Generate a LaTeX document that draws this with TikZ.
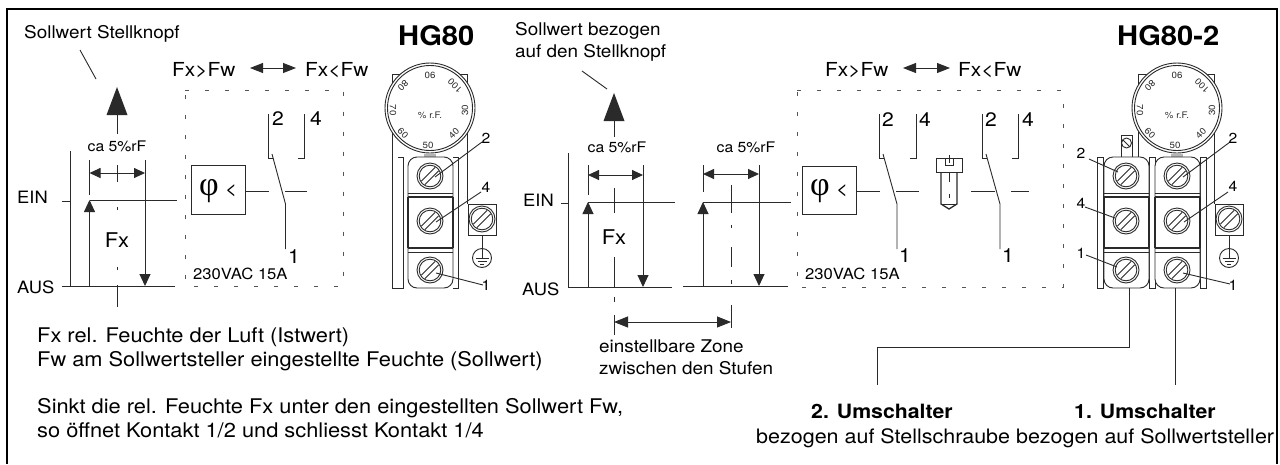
\documentclass[tikz,border=0pt]{standalone}
\usepackage{fontspec}
\setmainfont[FakeStretch=1.08]{TeX Gyre Heros}
\newfontfamily\phifont{Liberation Serif}
\usetikzlibrary{arrows.meta}
\definecolor{ink}{HTML}{2a2a2a}
\newcommand{\fsz}[1]{\fontsize{#1}{#1}\selectfont}
\tikzset{
  ln/.style={draw=ink,line width=0.9pt},
  txt/.style={inner sep=0pt,anchor=base west,text=black},
  body/.style={txt,font=\fsz{20.2}},
  upper/.style={txt,font=\fsz{17.5}},
  cmp/.style={txt,font=\fsz{19.3}},
  small/.style={txt,font=\fsz{15.4}},
  level/.style={txt,font=\fsz{17}},
  cat/.style={ctr,font=\fsz{14.6}},
  ctr/.style={inner sep=0pt,anchor=base,text=black},
  num/.style={ctr,font=\fsz{19.5}},
  snum/.style={ctr,font=\fsz{14.5}},
  dial/.style={inner sep=0pt,anchor=center,font=\fsz{9},text=ink},
  dimhead/.style={ln,{Triangle[length=11pt,width=10pt]}-{Triangle[length=11pt,width=10pt]}},
  cmphead/.style={ln,{Triangle[length=13pt,width=10pt]}-{Triangle[length=13pt,width=10pt]}},
  onehead/.style={ln,-{Triangle[length=12pt,width=11pt]}},
  dashbox/.style={draw=ink!80,line width=0.9pt,dash pattern=on 4pt off 16pt},
}
\newcommand{\screw}[3][13]{%
  \begin{scope}[shift={(#2,#3)}]
    \draw[ln,fill=white] (0,0) circle (13);
    \draw[ln] (0,0) circle (10.8);
    \draw[ln] (-8.5,5) -- (5,-8.5);
    \draw[ln] (-5,8.5) -- (8.5,-5);
  \end{scope}}
\newcommand{\knob}[1]{%
  \begin{scope}[shift={(#1,108)}]
    \draw[ln,fill=white] (0,0) circle (45);
    \draw[ln] (0,0) circle (42.5);
    \node[dial] (k06#1) at (0,-33) {06};
    \node[dial,rotate=135] (k100#1) at (25,-22) {100};
    \node[dial,rotate=90] (k30#1) at (35,2) {30};
    \node[dial,rotate=45] (k40#1) at (24,25) {40};
    \node[dial] (k50#1) at (-2,37) {50};
    \node[dial,rotate=-45] (k60#1) at (-27,25) {60};
    \node[dial,rotate=-90] (k70#1) at (-37,2) {70};
    \node[dial,rotate=-135] (k80#1) at (-27,-22) {80};
    \node[dial] (kpc#1) at (0,7) {\% r.F.};
    \fill[ink!35] (-6,46) rectangle (6,49);
  \end{scope}}
\newcommand{\block}[1]{%
  \begin{scope}[shift={(#1,0)}]
    \draw[ln,fill=white,rounded corners=9] (-22,157) rectangle (23,288);
    \draw[ln] (-22,193) -- (23,193);
    \draw[ln,line width=1.1pt] (-22,197) -- (23,197);
    \draw[ln,line width=1.1pt] (-22,248) -- (23,248);
    \draw[ln] (-22,252) -- (23,252);
    \draw[ln,line width=1.1pt] (-22,197) -- (-22,248);
    \draw[ln,line width=1.1pt] (23,197) -- (23,248);
  \end{scope}
  \screw{#1}{176}\screw{#1}{221}\screw{#1}{270}}
\newcommand{\earth}[1]{%
  \begin{scope}[shift={(#1,0)}]
    \draw[ln] (-14,204) rectangle (14,235);
    \screw{0}{219}
    \draw[ln] (0,235) -- (0,258);
    \draw[ln] (0,258) circle (9.5);
    \draw[ln] (-6.5,258) -- (6.5,258);
    \draw[ln] (-4.5,261) -- (4.5,261);
    \draw[ln] (-2,264) -- (2,264);
  \end{scope}}
\newcommand{\contact}[3]{%
  \draw[ln] (#1,114) -- (#1,158) -- (#1+5,158);
  \draw[ln] (#2,114) -- (#2,158) -- (#2-6,158);
  \draw[ln] (#1+4,154) -- (#3,204) -- (#3,249);}
\newcommand{\bigarrow}[3]{%
  \fill[ink] (#1,#2) -- (#1+10.5,#2+28) -- (#1-10.5,#2+28) -- cycle;
  \draw[ln] (#1,#2+27) -- (#1,#3);}
\begin{document}
\begin{tikzpicture}[x=1pt,y=-1pt]
\useasboundingbox (0,0) rectangle (1280,464);
\fill[white] (0,0) rectangle (1280,464);
% frame
\draw[draw=black,line width=2.2pt] (7,464) -- (7,9) -- (1277,9) -- (1277,464);

% ---------- left chart
\node[upper] (t1) at (24,38) {Sollwert Stellknopf};
\draw[ln] (80,50) -- (96,79);
\bigarrow{117}{87}{134}
\node[cat] (ca1) at (117,151) {ca 5\%rF};
\draw[ln] (70,151) -- (70,286);
\draw[ln] (62,286) -- (175,286);
\draw[ln] (62,201) -- (70,201);
\draw[ln] (90,200) -- (177,200);
\draw[ln] (89.5,160) -- (89.5,195);
\draw[ln] (145,160) -- (145,273);
\draw[dimhead] (89.5,173) -- (145,173);
\draw[onehead] (145,262) -- (145,286);
\draw[onehead] (89.5,286) -- (89.5,200);
\draw[ln] (117,165) -- (117,182);
\draw[ln] (117,207) -- (117,210);
\draw[ln] (117,267) -- (117,270);
\draw[ln] (117,285) -- (117,307);
\node[ctr,font=\fsz{20.3}] (fx1) at (117,247) {Fx};
\node[level] (ein1) at (17,203) {EIN};
\node[level] (aus1) at (17,293) {AUS};

% left schematic
\draw[dashbox] (185,90) -- (343.5,90) -- (343.5,286) -- (185,286) -- cycle;
\node[cmp] (c1a) at (172,76) {Fx>Fw};
\draw[cmphead] (250,68) -- (296,68);
\node[cmp] (c1b) at (305,76) {Fx<Fw};
\draw[ln] (191,165.5) rectangle (245,214);
\node[inner sep=0pt,font=\phifont\fsz{34}] (phi1) at (209,191) {φ};
\node[inner sep=0pt,font=\fsz{19}] (lt1) at (231,191) {<};
\draw[ln] (245,191) -- (269,191);
\draw[ln] (285,191) -- (307,191);
\contact{268}{304}{285.5}
\node[num] (n2a) at (278,125) {2};
\node[num] (n4a) at (316,125) {4};
\node[num] (n1a) at (294,263) {1};
\node[small] (v1) at (193,279) {230VAC 15A};

% HG80
\node[txt,font=\bfseries\fsz{27}] (h1) at (398,45) {HG80};
\draw[ln] (392,288) -- (392,74) -- (467,74) -- (467,204);
\draw[ln] (392,288) -- (403,288) -- (403,157) -- (398,157);
\draw[ln] (453,288) -- (458,288) -- (458,157) -- (453,157);
\knob{430}
\block{430}
\earth{482}
\draw[ln] (435,177) -- (482,142);
\draw[ln] (436,222) -- (481,192);
\draw[ln] (436,273) -- (483,285);
\node[snum] (s2a) at (486,143) {2};
\node[snum] (s4a) at (486,192) {4};
\node[snum] (s1a) at (486,290) {1};

% ---------- middle chart
\node[upper] (t2a) at (515,35) {Sollwert bezogen};
\node[upper] (t2b) at (515,57) {auf den Stellknopf};
\draw[ln] (582,71) -- (607,89);
\bigarrow{614}{93}{137}
\node[cat] (ca2) at (617,152) {ca 5\%rF};
\node[cat] (ca3) at (746,152) {ca 5\%rF};
\draw[ln] (568,153) -- (568,287);
\draw[ln] (568,287) -- (672,287);
\draw[ln] (683,286) -- (788,286);
\draw[ln] (561,203) -- (568,203);
\draw[ln] (588,202) -- (675,202);
\draw[ln] (703,202) -- (791,202);
\draw[ln] (588,165) -- (588,195);
\draw[ln] (643,165) -- (643,275);
\draw[ln] (703,165) -- (703,192);
\draw[ln] (759,165) -- (759,275);
\draw[dimhead] (588,175) -- (643,175);
\draw[dimhead] (703,174) -- (759,174);
\draw[onehead] (643,262) -- (643,287);
\draw[onehead] (759,262) -- (759,286);
\draw[onehead] (588,287) -- (588,202);
\draw[onehead] (703,286) -- (703,202);
\draw[ln] (614,188) -- (614,213);
\draw[ln] (614,257) -- (614,287);
\draw[ln] (614,297) -- (614,302);
\draw[ln] (614,315) -- (614,335);
\draw[ln] (731,185) -- (731,213);
\draw[ln] (731,225) -- (731,228);
\draw[ln] (731,247) -- (731,267);
\draw[ln] (731,280) -- (731,284);
\draw[ln] (731,305) -- (731,328);
\draw[ln,{Triangle[length=14pt,width=11pt]}-{Triangle[length=14pt,width=11pt]}] (614,322) -- (731,322);
\node[ctr,font=\fsz{20.3}] (fx2) at (614,244) {Fx};
\node[level] (ein2) at (523,206) {EIN};
\node[level] (aus2) at (522,295) {AUS};
\node[upper] (z1) at (599,352) {einstellbare Zone};
\node[upper] (z2) at (599,374) {zwischen den Stufen};

% middle schematic
\draw[dashbox] (797,90) -- (1063,90) -- (1063,287) -- (797,287) -- cycle;
\node[cmp] (c2a) at (825,76) {Fx>Fw};
\draw[cmphead] (903,68) -- (950,68);
\node[cmp] (c2b) at (958,76) {Fx<Fw};
\draw[ln] (802,166) rectangle (856,214);
\node[inner sep=0pt,font=\phifont\fsz{34}] (phi2) at (820,191) {φ};
\node[inner sep=0pt,font=\fsz{19}] (lt2) at (842,191) {<};
\draw[ln] (856,191) -- (880,191);
\draw[ln] (896,191) -- (919,191);
\draw[ln] (971,191) -- (995,191);
\draw[ln] (1011,191) -- (1029,191);
\contact{879}{916}{897}
\contact{982}{1018}{1000}
\node[num] (n2b) at (888,126) {2};
\node[num] (n4b) at (925,126) {4};
\node[num] (n2c) at (991,126) {2};
\node[num] (n4c) at (1028,126) {4};
\node[num] (n1b) at (905,262) {1};
\node[num] (n1c) at (1008,262) {1};
\node[small] (v2) at (805,279) {230VAC 15A};
% adjusting screw
\draw[ln] (936,158) rectangle (962,172);
\draw[ln,line width=1.3pt] (941,172) -- (941,204) -- (949,209) -- (957,204) -- (957,172);
\draw[ln] (941,204) -- (957,204);
\draw[ln] (945,158) -- (945,165) -- (953,165) -- (953,158);
\draw[ln] (949,155) -- (949,163);
\draw[ln] (949,172) -- (949,182);
\draw[ln] (949,194) -- (949,198);

% HG80-2
\node[txt,font=\bfseries\fsz{27}] (h2) at (1117,45) {HG80-2};
\draw[ln] (1138,157) -- (1138,74) -- (1214,74) -- (1214,204);
\draw[ln] (1097,157) rectangle (1103,288);
\draw[ln] (1149,157) rectangle (1155,288);
\draw[ln] (1200,157) rectangle (1206,288);
\knob{1177}
\draw[ln] (1121,135) rectangle (1132,157);
\draw[ln] (1126.5,143) circle (5);
\draw[ln] (1123,140) -- (1130,147);
\block{1126}
\block{1177}
\earth{1229}
\draw[ln] (1089,159) -- (1118,172);
\draw[ln] (1085,207) -- (1115,218);
\draw[ln] (1086,255) -- (1117,267);
\draw[ln] (1183,177) -- (1230,142);
\draw[ln] (1184,222) -- (1228,192);
\draw[ln] (1183,273) -- (1230,284);
\node[snum] (s2b) at (1081,158) {2};
\node[snum] (s4b) at (1081,208) {4};
\node[snum] (s1b) at (1081,258) {1};
\node[snum] (s2c) at (1233,143) {2};
\node[snum] (s4c) at (1233,191) {4};
\node[snum] (s1c) at (1233,290) {1};
% cables
\draw[ln] (1129,288) -- (1129,347) -- (877,347) -- (877,385);
\draw[ln] (1175,288) -- (1175,385);

% ---------- bottom texts
\node[body] (b1) at (37,342) {Fx rel. Feuchte der Luft (Istwert)};
\node[body] (b2) at (37,366) {Fw am Sollwertsteller eingestellte Feuchte (Sollwert)};
\node[body] (b3) at (37,413) {Sinkt die rel. Feuchte Fx unter den eingestellten Sollwert Fw,};
\node[body] (b4) at (37,437) {so öffnet Kontakt 1/2 und schliesst Kontakt 1/4};
\node[txt,font=\bfseries\fsz{19.7}] (u2) at (811,418) {2. Umschalter};
\node[txt,font=\bfseries\fsz{19.7}] (u1) at (1074,418) {1. Umschalter};
\node[txt,font=\fsz{19.9}] (u3) at (756,443) {bezogen auf Stellschraube bezogen auf Sollwertsteller};
\end{tikzpicture}
\end{document}
